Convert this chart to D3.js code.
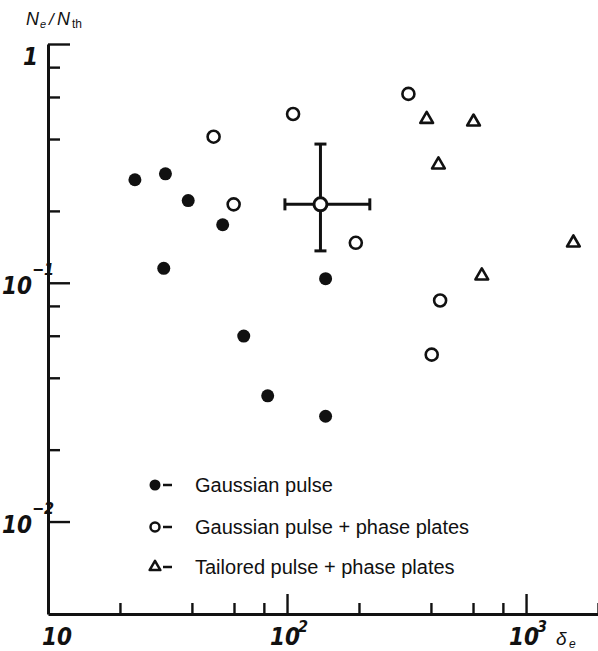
<!DOCTYPE html>
<html>
<head>
<meta charset="utf-8">
<script src="https://cdn.jsdelivr.net/npm/d3@7"></script>
<style>
body { margin: 0; background: #fff; }
svg { display: block; }
.tick text { display: none; }
.num { font-family: "Liberation Sans Narrow", "DejaVu Sans Condensed", sans-serif; font-style: italic; font-weight: bold; fill: #111; }
.lbl { font-family: "Liberation Sans", Arial, sans-serif; fill: #111; }
</style>
</head>
<body>
<div id="chart"></div>
<script>
// values (x = delta_e, y = Ne/Nth)
var gaussianX = [23.1, 31.0, 38.6, 53.8, 30.5, 145, 65.9, 83.0, 145];
var gaussianY = [0.270, 0.286, 0.221, 0.175, 0.115, 0.104, 0.0598, 0.0336, 0.0276];
var platesX = [106, 49.3, 59.8, 322, 194, 437, 403];
var platesY = [0.509, 0.409, 0.213, 0.618, 0.147, 0.0843, 0.050];
var tailoredX = [384, 603, 430, 1578, 653];
var tailoredY = [0.484, 0.472, 0.312, 0.147, 0.107];

var errCenter = [138, 0.213];
var errX = [98, 222];
var errY = [0.136, 0.381];

var xMajor = [10, 100, 1000];
var xMinor = [20, 40, 60, 80, 200, 400, 600, 800, 2000];
var xLabels = [["10", ""], ["10", "2"], ["10", "3"]];
var yMajor = [1, 0.1, 0.01];
var yMinor = [0.8, 0.6, 0.4, 0.2, 0.08, 0.06, 0.04, 0.02];
var yLabels = [["1", ""], ["10", "\u22121"], ["10", "\u22122"]];

var legendLabels = ["Gaussian pulse", "Gaussian pulse + phase plates", "Tailored pulse + phase plates"];

var margin = {top: 44, right: 0, bottom: 37, left: 48};
var width = 598 - margin.left - margin.right;
var height = 651 - margin.top - margin.bottom;

var root = d3.select("#chart")
  .append("svg")
    .attr("width", 598)
    .attr("height", 651);

var svg = root.append("g")
    .attr("transform", "translate(" + margin.left + "," + margin.top + ")");

var x = d3.scaleLog().domain([10, 2000]).range([0, width]);
var y = d3.scaleLog().domain([1, 0.0041]).range([0, height]);

function styleAxis(g, keepDomain) {
  g.select(".domain")
    .attr("stroke", "#111")
    .attr("stroke-width", 3)
    .style("display", keepDomain ? null : "none");
  g.selectAll(".tick line")
    .attr("stroke", "#111")
    .attr("stroke-width", 2.4);
}

svg.append("g")
   .attr("transform", "translate(0," + height + ")")
   .call(d3.axisBottom(x).tickValues(xMinor).tickSize(-11).tickSizeOuter(0).tickFormat(""))
   .call(styleAxis, false);

svg.append("g")
   .attr("transform", "translate(0," + height + ")")
   .call(d3.axisBottom(x).tickValues(xMajor).tickSize(-20).tickSizeOuter(0).tickFormat(""))
   .call(styleAxis, true);

svg.append("g")
   .call(d3.axisLeft(y).tickValues(yMinor).tickSize(-12).tickSizeOuter(0).tickFormat(""))
   .call(styleAxis, false);

svg.append("g")
   .call(d3.axisLeft(y).tickValues(yMajor).tickSize(-22).tickSizeOuter(0).tickFormat(""))
   .call(styleAxis, true);

// tick labels
xMajor.forEach(function(v, i) {
  var px = i == 0 ? x(v) + 9 : x(v) - 2;
  svg.append("text").attr("class", "num")
     .attr("x", px).attr("y", height + 31)
     .attr("text-anchor", "middle")
     .style("font-size", "24px")
     .text(xLabels[i][0]);
  if (xLabels[i][1]) {
    svg.append("text").attr("class", "num")
       .attr("x", px + 13).attr("y", height + 18)
       .style("font-size", "16px")
       .text(xLabels[i][1]);
  }
});

yMajor.forEach(function(v, i) {
  if (!yLabels[i][1]) {
    svg.append("text").attr("class", "num")
       .attr("x", -10).attr("y", y(v) + 21)
       .attr("text-anchor", "end")
       .style("font-size", "24px")
       .text(yLabels[i][0]);
    return;
  }
  svg.append("text").attr("class", "num")
     .attr("x", -16).attr("y", y(v) + 11)
     .attr("text-anchor", "end")
     .style("font-size", "24px")
     .text(yLabels[i][0]);
  svg.append("text").attr("class", "num")
     .attr("x", -16).attr("y", y(v) - 8)
     .style("font-size", "16px")
     .text(yLabels[i][1]);
});

// axis titles
var title = root.append("g").attr("class", "lbl");
title.append("text").attr("x", 26).attr("y", 25).style("font-size", "18px").style("font-style", "italic").text("N");
title.append("text").attr("x", 40).attr("y", 28).style("font-size", "11px").style("font-style", "italic").text("e");
title.append("text").attr("x", 49).attr("y", 25).style("font-size", "17px").style("font-style", "italic").text("/");
title.append("text").attr("x", 57).attr("y", 25).style("font-size", "18px").style("font-style", "italic").text("N");
title.append("text").attr("x", 72).attr("y", 28).style("font-size", "12px").text("th");

root.append("text").attr("class", "lbl")
    .attr("x", 556).attr("y", 645)
    .style("font-size", "19px").style("font-style", "italic")
    .text("\u03b4");
root.append("text").attr("class", "lbl")
    .attr("x", 569).attr("y", 648)
    .style("font-size", "12px").style("font-style", "italic")
    .text("e");

// error bar
var eb = svg.append("g")
    .attr("stroke", "#111")
    .attr("stroke-width", 3)
    .attr("fill", "none");
eb.append("line")
  .attr("x1", x(errCenter[0])).attr("x2", x(errCenter[0]))
  .attr("y1", y(errY[1])).attr("y2", y(errY[0]));
eb.append("line")
  .attr("x1", x(errX[0])).attr("x2", x(errX[1]))
  .attr("y1", y(errCenter[1])).attr("y2", y(errCenter[1]));
errY.forEach(function(v) {
  eb.append("line")
    .attr("x1", x(errCenter[0]) - 6).attr("x2", x(errCenter[0]) + 6)
    .attr("y1", y(v)).attr("y2", y(v));
});
errX.forEach(function(v) {
  eb.append("line")
    .attr("x1", x(v)).attr("x2", x(v))
    .attr("y1", y(errCenter[1]) - 6).attr("y2", y(errCenter[1]) + 6);
});
eb.append("circle")
  .attr("cx", x(errCenter[0])).attr("cy", y(errCenter[1]))
  .attr("r", 6.5).attr("fill", "#fff");

// points
svg.selectAll(".filled")
   .data(d3.zip(gaussianX, gaussianY))
   .enter().append("circle")
   .attr("class", "filled")
   .attr("cx", function(d) { return x(d[0]); })
   .attr("cy", function(d) { return y(d[1]); })
   .attr("r", 6.5)
   .attr("fill", "#111");

svg.selectAll(".open")
   .data(d3.zip(platesX, platesY))
   .enter().append("circle")
   .attr("class", "open")
   .attr("cx", function(d) { return x(d[0]); })
   .attr("cy", function(d) { return y(d[1]); })
   .attr("r", 6)
   .attr("fill", "#fff")
   .attr("stroke", "#111")
   .attr("stroke-width", 2.6);

svg.selectAll(".tri")
   .data(d3.zip(tailoredX, tailoredY))
   .enter().append("path")
   .attr("class", "tri")
   .attr("d", d3.symbol(d3.symbolTriangle, 70))
   .attr("transform", function(d) { return "translate(" + x(d[0]) + "," + y(d[1]) + ")"; })
   .attr("fill", "#fff")
   .attr("stroke", "#111")
   .attr("stroke-width", 2.6)
   .attr("stroke-linejoin", "round");

// legend
var legend = root.append("g").attr("transform", "translate(155,485)");
var rows = [0, 42, 82];
legend.append("circle").attr("cy", rows[0]).attr("r", 5.5).attr("fill", "#111");
legend.append("circle").attr("cy", rows[1]).attr("r", 4.5)
      .attr("fill", "#fff").attr("stroke", "#111").attr("stroke-width", 2.5);
legend.append("path").attr("d", d3.symbol(d3.symbolTriangle, 50))
      .attr("transform", "translate(0," + rows[2] + ")")
      .attr("fill", "#fff").attr("stroke", "#111").attr("stroke-width", 2.5)
      .attr("stroke-linejoin", "round");

legendLabels.forEach(function(label, i) {
  legend.append("line")
        .attr("x1", 8).attr("x2", 17)
        .attr("y1", rows[i]).attr("y2", rows[i])
        .attr("stroke", "#111").attr("stroke-width", 2.5);
  legend.append("text").attr("class", "lbl")
        .attr("x", 40).attr("y", rows[i] + 7)
        .style("font-size", "20px")
        .text(label);
});
</script>
</body>
</html>
